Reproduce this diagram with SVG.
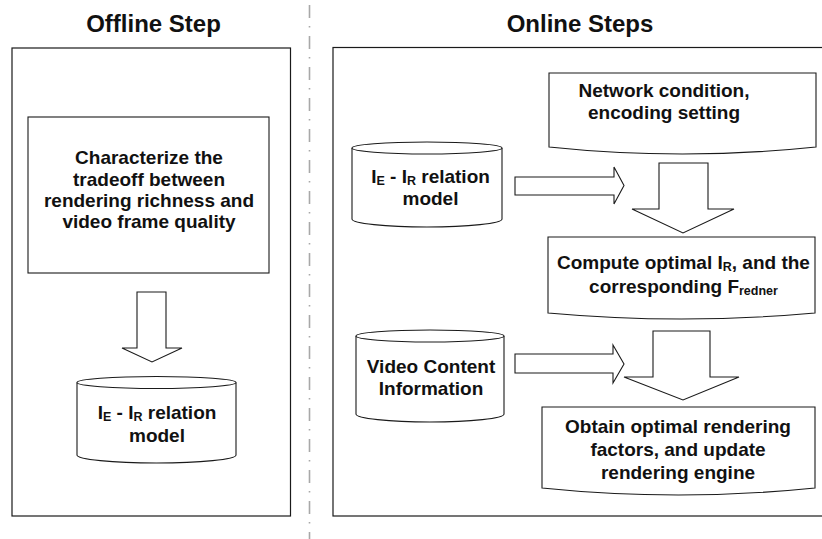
<svg xmlns="http://www.w3.org/2000/svg" width="822" height="539" viewBox="0 0 822 539">
<style>
.bg{fill:#fff}
.sh{fill:#fff;stroke:#1a1a1a;stroke-width:1.1}
.panel{fill:#fff;stroke:#1a1a1a;stroke-width:1.2}
.t{font-family:"Liberation Sans",Arial,sans-serif;font-weight:bold;font-size:19px;fill:#111;text-anchor:middle}
.title{font-size:24px}
.sub{font-size:12.5px}
.div{stroke:#a8a8a8;stroke-width:1.6;stroke-dasharray:13 8 1.5 8.5;fill:none}
</style>
<rect class="bg" x="0" y="0" width="822" height="539"/>
<line id="divider" class="div" x1="309.5" y1="5" x2="309.5" y2="539"/>
<g id="offline-panel">
<rect class="panel" x="12" y="48" width="278.5" height="468"/>
<text class="t title" x="153.5" y="32">Offline Step</text>
</g>
<g id="online-panel">
<rect class="panel" x="333" y="47.5" width="500" height="468.5"/>
<text class="t title" x="580" y="32">Online Steps</text>
</g>
<g id="characterize">
<rect class="sh" x="28" y="117" width="241" height="156"/>
<text class="t" x="149" y="164">Characterize the</text>
<text class="t" x="149" y="185.5">tradeoff between</text>
<text class="t" x="149" y="207">rendering richness and</text>
<text class="t" x="149" y="228">video frame quality</text>
</g>
<g id="offline-model">
<path class="sh" d="M77,382.5 L77,455 A79.5,8 0 0 0 236,455 L236,382.5"/>
<ellipse class="sh" cx="156.5" cy="382.5" rx="79.5" ry="6"/>
<text class="t" x="157" y="419">I<tspan class="sub" dy="2">E</tspan><tspan dy="-2"> - I</tspan><tspan class="sub" dy="2">R</tspan><tspan dy="-2"> relation</tspan></text>
<text class="t" x="157" y="442">model</text>
</g>
<g id="network">
<path class="sh" d="M549,73 L816,73 L816,147 Q682.5,161 549,147 Z"/>
<text class="t" x="664" y="97">Network condition,</text>
<text class="t" x="664" y="119">encoding setting</text>
</g>
<g id="online-model">
<path class="sh" d="M352,148 L352,219 A75,8 0 0 0 502,219 L502,148"/>
<ellipse class="sh" cx="427" cy="148" rx="75" ry="6"/>
<text class="t" x="430.5" y="183">I<tspan class="sub" dy="2">E</tspan><tspan dy="-2"> - I</tspan><tspan class="sub" dy="2">R</tspan><tspan dy="-2"> relation</tspan></text>
<text class="t" x="430.5" y="205">model</text>
</g>
<g id="compute">
<path class="sh" d="M548,237 L815,237 L815,313 Q681.5,325 548,313 Z"/>
<text class="t" x="683.5" y="269">Compute optimal I<tspan class="sub" dy="2">R</tspan><tspan dy="-2">, and the</tspan></text>
<text class="t" x="683.5" y="293">corresponding F<tspan class="sub" dy="2">redner</tspan></text>
</g>
<g id="video">
<path class="sh" d="M356,336 L356,414 A74,8 0 0 0 504,414 L504,336"/>
<ellipse class="sh" cx="430" cy="336" rx="74" ry="6"/>
<text class="t" x="431" y="372.5">Video Content</text>
<text class="t" x="431" y="395">Information</text>
</g>
<g id="obtain">
<path class="sh" d="M542,407 L815,407 L815,488 Q678.5,502 542,488 Z"/>
<text class="t" x="678" y="433">Obtain optimal rendering</text>
<text class="t" x="678" y="456">factors, and update</text>
<text class="t" x="678" y="478.5">rendering engine</text>
</g>
<g id="connectors">
<path class="sh" d="M137,292 L166,292 L166,348 L182,348 L152,362 L122,348 L137,348 Z"/>
<path class="sh" d="M515,177 L614,177 L614,167 L624,185.5 L614,204 L614,195 L515,195 Z"/>
<path class="sh" d="M659,163 L708,163 L708,209 L734,209 L683,233 L632,209 L659,209 Z"/>
<path class="sh" d="M515,354 L613,354 L613,345 L624,364 L613,383 L613,373 L515,373 Z"/>
<path class="sh" d="M653,331 L710,331 L710,377 L739,377 L683,400 L624,377 L653,377 Z"/>
</g>
</svg>
